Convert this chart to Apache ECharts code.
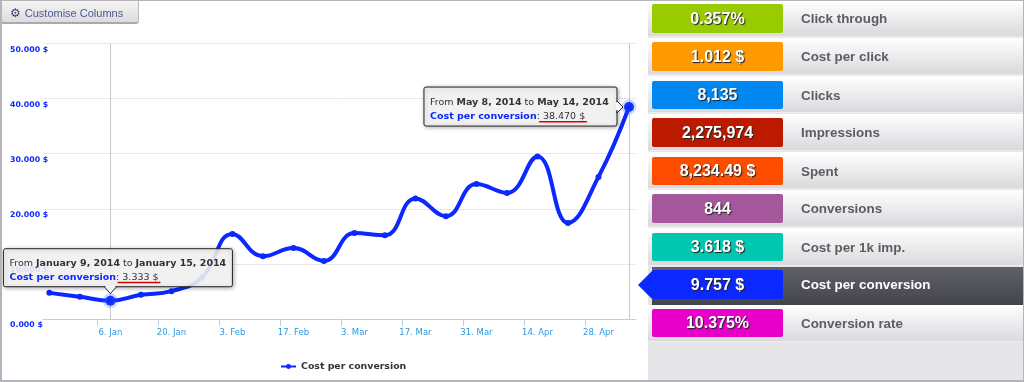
<!DOCTYPE html>
<html>
<head>
<meta charset="utf-8">
<script src="https://cdn.jsdelivr.net/npm/echarts@6/dist/echarts.min.js"></script>
<style>
    html,body{margin:0;padding:0;background:#fff;}
    #page{position:relative;width:1024px;height:382px;overflow:hidden;box-sizing:border-box;border:1px solid #b4b4ba;border-left-width:2px;border-bottom-width:2px;}
    #mainLine{position:absolute;left:-2px;top:-1px;width:648px;height:382px;}
    #customise{position:absolute;left:-1px;top:-1px;width:138px;height:24px;box-sizing:border-box;border:1px solid #bbb;border-top:0;border-bottom:2px solid #aaa;border-radius:0 0 3px 3px;background:linear-gradient(#f6f6f7,#dcdcde);font:11px "Liberation Sans",Arial,sans-serif;color:#4a5a8e;line-height:26px;padding-left:8px;}
    #customise span{font-family:"DejaVu Sans";font-size:12px;color:#2f4078;margin-right:4px;}
    #panel{position:absolute;left:646px;top:-1px;width:376px;height:381px;background:#e6e6e9;}
    .row{position:absolute;left:0;width:376px;background:linear-gradient(#fff,#dadade);border-bottom:1px solid #eee;box-sizing:border-box;}
    .row.on{left:4px;width:372px;background:linear-gradient(#5f6068,#44454c);border-bottom:0;}
    .badge{position:absolute;left:4px;width:131px;border-radius:2px;text-align:center;color:#fff;font:bold 16px "Liberation Sans",Arial,sans-serif;text-shadow:1px 1px 1px #222;}
    .name{position:absolute;left:153px;font:bold 13.4px "Liberation Sans",Arial,sans-serif;color:#5c5c62;}
    .name.on{color:#fff;}
    #pointer{position:absolute;left:-10px;top:271px;width:0;height:0;border-top:14px solid transparent;border-bottom:14px solid transparent;border-right:14px solid #0a28ff;}
</style>
</head>
<body>
<div id="page">
    <div id="mainLine"></div>
    <div id="customise"><span>&#9881;</span>Customise Columns</div>
    <div id="panel"></div>
</div>
<script>
    // one point per week, x labels every second week
    var weekLabels = ['','','6. Jan','','20. Jan','','3. Feb','','17. Feb','','3. Mar','','17. Mar','','31. Mar','','14. Apr','','28. Apr',''];
    var costPerConversion = [4.76,4.05,3.333,4.4,5.07,7.55,15.46,11.4,12.9,10.56,15.6,15.2,21.9,18.66,24.5,22.9,29.5,17.45,25.8,38.47];
    var yTickLabels = ['0.000 $','10.000 $','20.000 $','30.000 $','40.000 $','50.000 $'];
    var seriesName = 'Cost per conversion';
    var highlighted = [2,19];
    var tipFrom = ['January 9, 2014','May 8, 2014'];
    var tipTo = ['January 15, 2014','May 14, 2014'];
    var tipValue = ['3.333 $','38.470 $'];

    var kpiValues = ['0.357%','1.012 $','8,135','2,275,974','8,234.49 $','844','3.618 $','9.757 $','10.375%'];
    var kpiNames = ['Click through','Cost per click','Clicks','Impressions','Spent','Conversions','Cost per 1k imp.','Cost per conversion','Conversion rate'];
    var kpiColors = ['#99cc00','#ff9900','#0088f0','#bb1a00','#ff4d00','#a5579b','#00c8b0','#0a28ff','#e600c8'];
    var kpiRowTops = [1,38,76,114,152,190,228,267,305];
    var kpiRowHeights = [36,37,37,37,37,37,38,38,37];
    var kpiBadgeTops = [4,42,81,118,157,194,233,270,309];
    var kpiBadgeHeights = [29,29,28,29,28,29,28,29,28];

    var BLUE = '#0a28ff';

    // right side panel
    var panel = document.getElementById('panel');
    kpiNames.forEach(function (item,index) {
        var on = index === 7;
        var row = document.createElement('div');
        row.className = on ? 'row on' : 'row';
        row.style.top = kpiRowTops[index]+'px';
        row.style.height = kpiRowHeights[index]+'px';
        panel.appendChild(row);
        var name = document.createElement('div');
        name.className = on ? 'name on' : 'name';
        name.textContent = item;
        name.style.top = kpiBadgeTops[index]+'px';
        name.style.lineHeight = (kpiBadgeHeights[index]+1)+'px';
        panel.appendChild(name);
        var badge = document.createElement('div');
        badge.className = 'badge';
        badge.textContent = kpiValues[index];
        badge.style.top = kpiBadgeTops[index]+'px';
        badge.style.height = kpiBadgeHeights[index]+'px';
        badge.style.lineHeight = kpiBadgeHeights[index]+'px';
        badge.style.background = kpiColors[index];
        panel.appendChild(badge);
    });
    var pointer = document.createElement('div');
    pointer.id = 'pointer';
    panel.appendChild(pointer);

    var labelTicks = [];
    var bandTicks = [];
    weekLabels.forEach(function (item,index) {
        if(item){
            labelTicks.push(index);
            bandTicks.push(index-0.43);/*ticks sit left of the labels*/
        }
    });

    var chart = echarts.init(document.getElementById('mainLine'));
    chart.setOption({
        animation:false,
        textStyle:{fontFamily:'"DejaVu Sans"'},
        grid:{left:43,top:43.5,width:593,height:275.6},
        legend:{
            data:[seriesName],
            left:275,
            top:357,
            itemWidth:15,
            itemHeight:6,
            itemGap:2,
            textStyle:{fontSize:9.4,fontWeight:'bold',color:'#333'}
        },
        xAxis:{
            type:'value',
            min:-0.21,
            max:19.23,
            splitLine:{show:false},
            axisLine:{lineStyle:{color:'#c0d0e0',width:1}},
            axisTick:{show:true,length:7,customValues:bandTicks,lineStyle:{color:'#c0d0e0'}},
            axisLabel:{
                customValues:labelTicks,
                margin:9,
                fontSize:8.5,
                color:'#2a9ae0',
                formatter:function (v) { return weekLabels[v]; }
            }
        },
        yAxis:{
            type:'value',
            min:0,
            max:50,
            interval:10,
            axisLine:{show:false},
            axisTick:{show:false},
            splitLine:{lineStyle:{color:'#e8e8e8',width:1}},
            axisLabel:{
                align:'left',
                verticalAlign:'top',
                padding:[2,0,0,0],
                margin:33,
                fontSize:7.8,
                fontWeight:'bold',
                color:BLUE,
                formatter:function (v) { return yTickLabels[v/10]; }
            }
        },
        series:[{
            name:seriesName,
            type:'line',
            smooth:0.45,
            data:costPerConversion.map(function (v,i) { return [i,v]; }),
            symbol:'circle',
            symbolSize:6,
            showAllSymbol:true,
            lineStyle:{color:BLUE,width:4},
            itemStyle:{color:BLUE},
            markLine:{
                silent:true,
                symbol:'none',
                label:{show:false},
                lineStyle:{color:'#c8c8c8',width:1,type:'solid'},
                data:highlighted.map(function (i) { return {xAxis:i}; })
            },
            markPoint:{
                silent:true,
                symbol:'circle',
                symbolSize:10,
                label:{show:false},
                itemStyle:{color:BLUE,borderColor:'rgba(60,90,240,0.25)',borderWidth:5},
                data:highlighted.map(function (i) { return {coord:[i,costPerConversion[i]]}; })
            }
        }]
    });

    // fixed hover boxes, placed from the pixel of their point
    function tipBox(index,dx,dy,w,h,arrow,lineX,lineW) {
        var p = chart.convertToPixel({seriesIndex:0},[highlighted[index],costPerConversion[highlighted[index]]]);
        var line = '{n|From }{b|'+tipFrom[index]+'}{n| to }{b|'+tipTo[index]+'}\n{c|'+seriesName+'}{n|: '+tipValue[index]+'}';
        var x = p[0]+dx, y = p[1]+dy;
        return [{
            type:'rect',z:100,
            shape:{x:x,y:y,width:w,height:h,r:2},
            style:{fill:'rgba(250,250,250,0.87)',stroke:'#222',lineWidth:1,shadowBlur:4,shadowColor:'rgba(0,0,0,0.35)',shadowOffsetX:1,shadowOffsetY:1}
        },{
            type:'polygon',z:101,
            shape:{points:arrow.map(function (a) { return [p[0]+a[0],p[1]+a[1]]; })},
            style:{fill:'#fafafa',stroke:'#222',lineWidth:1}
        },{
            type:'rect',z:101,
            shape:arrow[0][0]===arrow[2][0]
                ? {x:x+w-1,y:p[1]-5,width:2,height:8}
                : {x:p[0]-5,y:y+h-1,width:10,height:2},
            style:{fill:'#fafafa'}
        },{
            type:'text',z:102,
            x:x+6,y:y+8,
            style:{
                text:line,
                lineHeight:14,
                rich:{
                    n:{fontSize:9.5,fontFamily:'"DejaVu Sans"',fill:'#333',lineHeight:14},
                    b:{fontSize:9.5,fontFamily:'"DejaVu Sans"',fontWeight:'bold',fill:'#333',lineHeight:14},
                    c:{fontSize:9.5,fontFamily:'"DejaVu Sans"',fontWeight:'bold',fill:BLUE,lineHeight:14}
                }
            }
        },{
            type:'rect',z:103,
            shape:{x:x+lineX,y:y+h-5,width:lineW,height:1.5},
            style:{fill:'#e00000'}
        }];
    }
    chart.setOption({
        graphic:tipBox(0,-107,-52,229,38,[[-6,-14],[0,-7],[6,-14]],114,43)
            .concat(tipBox(1,-205,-20,193,39,[[-12,-6],[-6,0],[-12,6]],115,48))
    });
</script>
</body>
</html>
